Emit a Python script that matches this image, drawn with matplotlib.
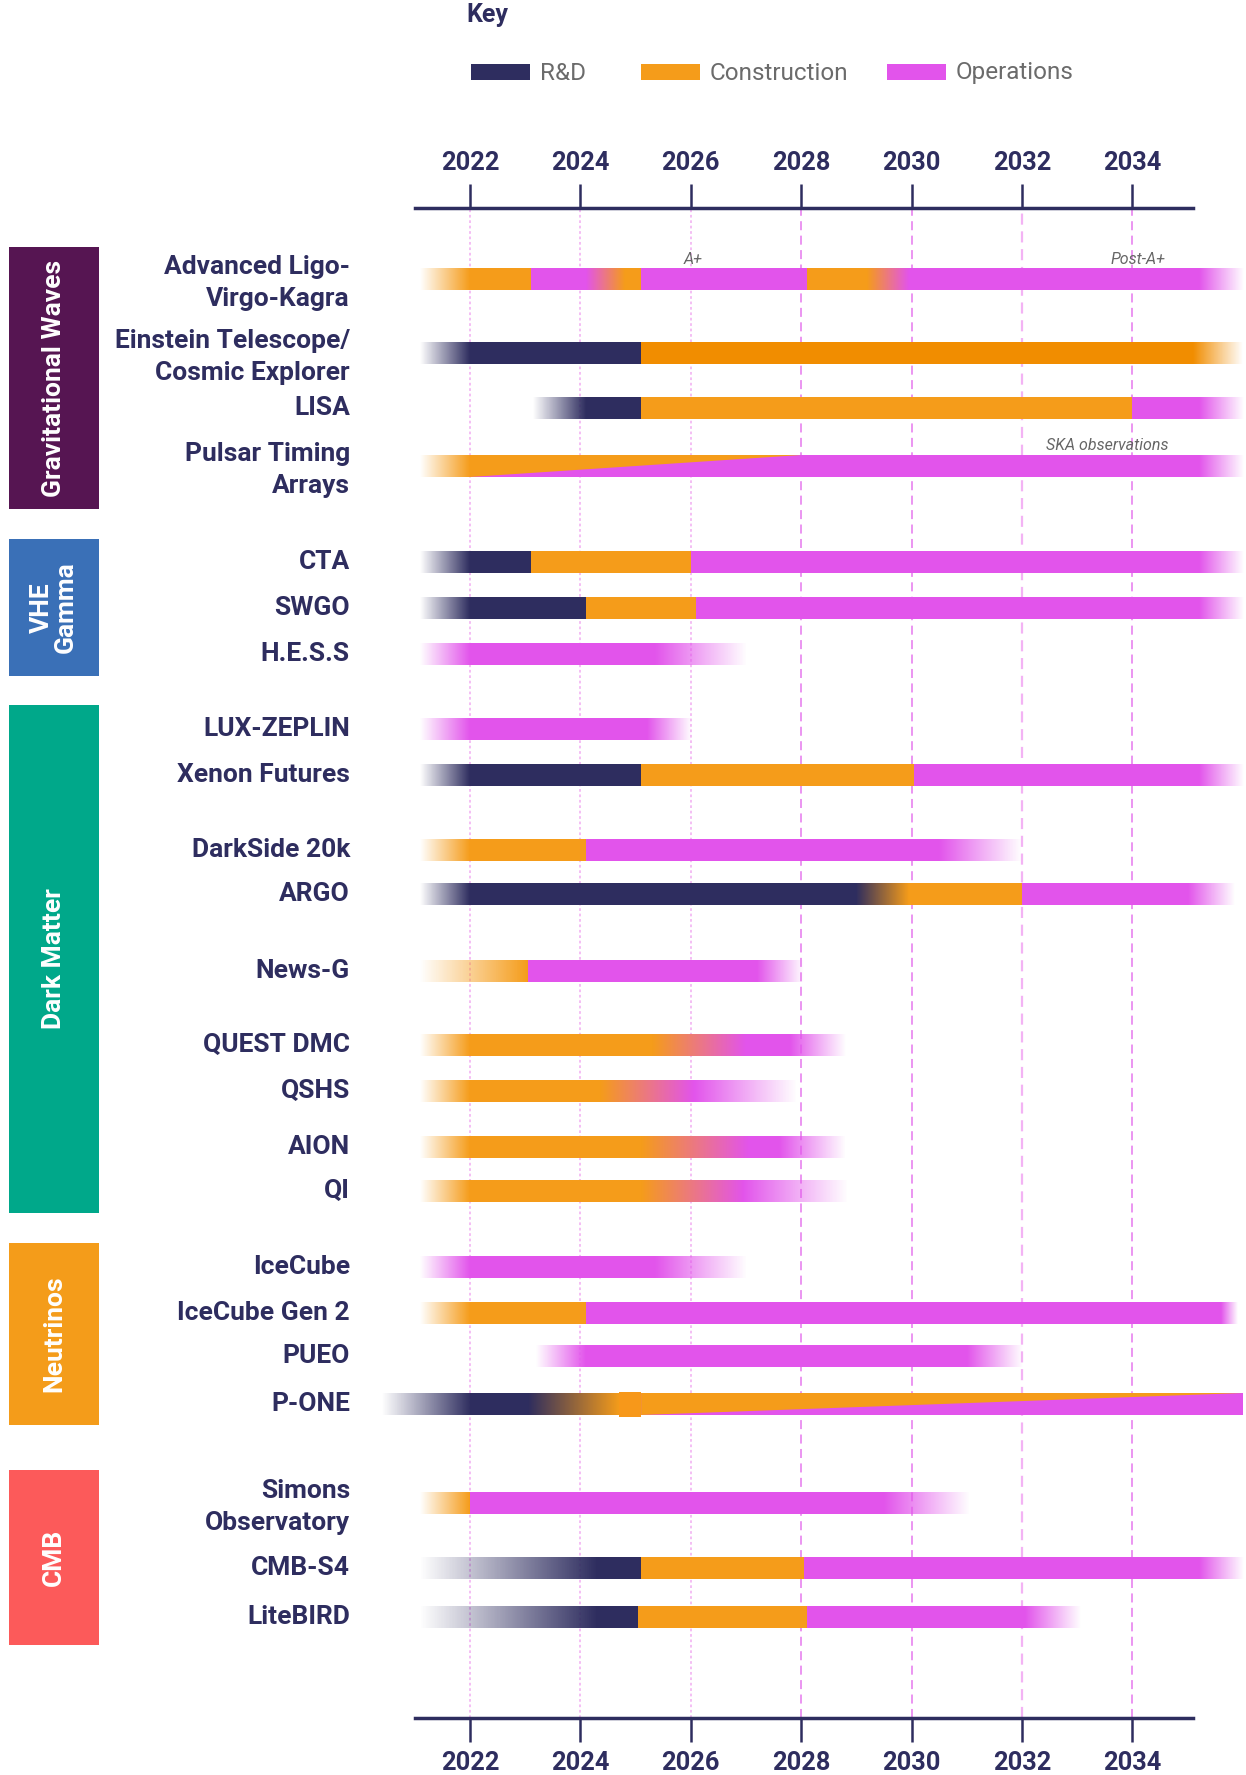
import matplotlib
matplotlib.use('Agg')
import matplotlib.pyplot as plt
from matplotlib.colors import to_rgb
import numpy as np

plt.rcParams['font.family'] = ['Roboto', 'DejaVu Sans']

NAVY = '#2e2d5f'
colours = {'rd': '#2e2d5f', 'con': '#f59c1a', 'cond': '#f18d00', 'ops': '#e254eb'}

# ---------------- data ----------------
years = [2022, 2024, 2026, 2028, 2030, 2032, 2034]

groups = ['Gravitational Waves', 'VHE\nGamma', 'Dark Matter', 'Neutrinos', 'CMB']
group_colours = ['#561552', '#3a70b7', '#00a88a', '#f49c1a', '#fc5a5a']

labels = ['Advanced Ligo-\nVirgo-Kagra', 'Einstein Telescope/\nCosmic Explorer', 'LISA',
          'Pulsar Timing\nArrays',
          'CTA', 'SWGO', 'H.E.S.S',
          'LUX-ZEPLIN', 'Xenon Futures', 'DarkSide 20k', 'ARGO', 'News-G',
          'QUEST DMC', 'QSHS', 'AION', 'QI',
          'IceCube', 'IceCube Gen 2', 'PUEO', 'P-ONE',
          'Simons\nObservatory', 'CMB-S4', 'LiteBIRD']

# phases as (start year, end year, phase at start, phase at end); 'none' = faded out
gw_bars = [
    [(2021.1, 2022, 'none', 'con'), (2022, 2023.1, 'con', 'con'), (2023.1, 2024.1, 'ops', 'ops'),
     (2024.1, 2024.8, 'ops', 'con'), (2024.8, 2025.1, 'con', 'con'), (2025.1, 2028.1, 'ops', 'ops'),
     (2028.1, 2029.2, 'con', 'con'), (2029.2, 2029.95, 'con', 'ops'), (2029.95, 2035.2, 'ops', 'ops'),
     (2035.2, 2036, 'ops', 'none')],
    [(2021.1, 2022, 'none', 'rd'), (2022, 2025.1, 'rd', 'rd'), (2025.1, 2035.1, 'cond', 'cond'),
     (2035.1, 2036, 'cond', 'none')],
    [(2023.15, 2024.1, 'none', 'rd'), (2024.1, 2025.1, 'rd', 'rd'), (2025.1, 2034.0, 'con', 'con'),
     (2034.0, 2035.2, 'ops', 'ops'), (2035.2, 2036, 'ops', 'none')],
    [(2021.1, 2022, 'none', 'con'), (2022, 2035.2, 'ops', 'ops'), (2035.2, 2036, 'ops', 'none')],
]
vhe_bars = [
    [(2021.1, 2022, 'none', 'rd'), (2022, 2023.1, 'rd', 'rd'), (2023.1, 2026.0, 'con', 'con'),
     (2026.0, 2035.2, 'ops', 'ops'), (2035.2, 2036, 'ops', 'none')],
    [(2021.1, 2022, 'none', 'rd'), (2022, 2024.1, 'rd', 'rd'), (2024.1, 2026.1, 'con', 'con'),
     (2026.1, 2035.2, 'ops', 'ops'), (2035.2, 2036, 'ops', 'none')],
    [(2021.1, 2022, 'none', 'ops'), (2022, 2025.35, 'ops', 'ops'), (2025.35, 2027.0, 'ops', 'none')],
]
dm_bars = [
    [(2021.1, 2022, 'none', 'ops'), (2022, 2025.2, 'ops', 'ops'), (2025.2, 2026.0, 'ops', 'none')],
    [(2021.1, 2022, 'none', 'rd'), (2022, 2025.1, 'rd', 'rd'), (2025.1, 2030.05, 'con', 'con'),
     (2030.05, 2035.2, 'ops', 'ops'), (2035.2, 2036, 'ops', 'none')],
    [(2021.1, 2022, 'none', 'con'), (2022, 2024.1, 'con', 'con'), (2024.1, 2030.5, 'ops', 'ops'),
     (2030.5, 2032.0, 'ops', 'none')],
    [(2021.1, 2022, 'none', 'rd'), (2022, 2029.0, 'rd', 'rd'), (2029.0, 2029.95, 'rd', 'con'),
     (2029.95, 2032.0, 'con', 'con'), (2032.0, 2035.0, 'ops', 'ops'), (2035.0, 2035.85, 'ops', 'none')],
    [(2021.1, 2023.05, 'none', 'con'), (2023.05, 2027.2, 'ops', 'ops'), (2027.2, 2028.05, 'ops', 'none')],
    [(2021.1, 2022, 'none', 'con'), (2022, 2025.3, 'con', 'con'), (2025.3, 2027.0, 'con', 'ops'),
     (2027.0, 2027.8, 'ops', 'ops'), (2027.8, 2028.8, 'ops', 'none')],
    [(2021.1, 2022, 'none', 'con'), (2022, 2024.35, 'con', 'con'), (2024.35, 2026.05, 'con', 'ops'),
     (2026.05, 2027.9, 'ops', 'none')],
    [(2021.1, 2022, 'none', 'con'), (2022, 2025.1, 'con', 'con'), (2025.1, 2027.05, 'con', 'ops'),
     (2027.05, 2027.6, 'ops', 'ops'), (2027.6, 2028.8, 'ops', 'none')],
    [(2021.1, 2022, 'none', 'con'), (2022, 2025.1, 'con', 'con'), (2025.1, 2026.95, 'con', 'ops'),
     (2026.95, 2028.85, 'ops', 'none')],
]
nu_bars = [
    [(2021.1, 2022, 'none', 'ops'), (2022, 2025.35, 'ops', 'ops'), (2025.35, 2027.0, 'ops', 'none')],
    [(2021.1, 2022, 'none', 'con'), (2022, 2024.1, 'con', 'con'), (2024.1, 2035.6, 'ops', 'ops'),
     (2035.6, 2035.9, 'ops', 'none')],
    [(2023.2, 2024.1, 'none', 'ops'), (2024.1, 2031.0, 'ops', 'ops'), (2031.0, 2032.0, 'ops', 'none')],
    [(2020.4, 2022, 'none', 'rd'), (2022, 2023.05, 'rd', 'rd'), (2023.05, 2024.7, 'rd', 'con'),
     (2024.7, 2025.1, 'con', 'con'), (2025.1, 2036.0, 'ops', 'ops')],
]
cmb_bars = [
    [(2021.1, 2022, 'none', 'con'), (2022, 2029.5, 'ops', 'ops'), (2029.5, 2031.05, 'ops', 'none')],
    [(2021.1, 2024.3, 'none', 'rd'), (2024.3, 2025.1, 'rd', 'rd'), (2025.1, 2028.05, 'con', 'con'),
     (2028.05, 2035.2, 'ops', 'ops'), (2035.2, 2036, 'ops', 'none')],
    [(2021.1, 2024.3, 'none', 'rd'), (2024.3, 2025.05, 'rd', 'rd'), (2025.05, 2028.1, 'con', 'con'),
     (2028.1, 2032.05, 'ops', 'ops'), (2032.05, 2033.05, 'ops', 'none')],
]
bars = gw_bars + vhe_bars + dm_bars + nu_bars + cmb_bars

# construction tapering into operations (row index, start, end)
wedges = [(3, 2022, 2028), (19, 2025.1, 2036.0)]

notes = [('A+', 2026.05, 0), ('Post-A+', 2034.1, 0), ('SKA observations', 2033.55, 3)]

# ---------------- layout (pixels) ----------------
W, H = 1246, 1775
row_y = [279, 353, 408, 466, 562, 608, 654, 729, 775, 850, 894, 971, 1045, 1091, 1147, 1191,
         1267, 1313, 1356, 1404, 1503, 1568, 1617]
BAR_H = 22
group_box = [(247, 509), (539, 676), (705, 1213), (1243, 1425), (1470, 1645)]
ax_left, ax_right, ax_top, ax_bot = 415, 1193, 208, 1718
px_per_year = 55.2
x2022 = 470


def px2yr(p):
    return 2022 + (p - x2022) / px_per_year


fig = plt.figure(figsize=(W / 100, H / 100), dpi=100)

lay = fig.add_axes([0, 0, 1, 1])
lay.set_xlim(0, W)
lay.set_ylim(H, 0)
lay.axis('off')

ax = fig.add_axes([ax_left / W, 1 - ax_bot / H, (ax_right - ax_left) / W, (ax_bot - ax_top) / H])
ax.set_xlim(px2yr(ax_left), px2yr(ax_right))
ax.set_ylim(ax_bot, ax_top)
ax.patch.set_visible(False)
for s in ['left', 'right']:
    ax.spines[s].set_visible(False)
for s in ['top', 'bottom']:
    ax.spines[s].set_color(NAVY)
    ax.spines[s].set_linewidth(2.5)
ax.set_yticks([])
ax.set_xticks(years)
ax.tick_params(axis='x', top=True, bottom=True, labeltop=True, labelbottom=True,
               direction='out', length=17, width=1.8, color=NAVY, labelcolor=NAVY,
               labelsize=18.3, pad=7)
for t in ax.get_xticklabels():
    t.set_fontweight('bold')

# grid lines
for yr in years:
    if yr <= 2026:
        ax.axvline(yr, color='#f3b9f3', lw=1.3, ls=(0, (1.5, 1.5)), zorder=0.5)
    elif yr == 2032:
        ax.axvline(yr, color='#f3b3f4', lw=1.6, ls=(0, (5, 3)), zorder=0.5)
    else:
        ax.axvline(yr, color='#e98cf0', lw=1.3, ls=(0, (5, 3)), zorder=0.5)


def draw_seg(y, x0, x1, k0, k1):
    if k0 == k1:
        ax.barh(y, x1 - x0, left=x0, height=BAR_H, color=colours[k0], linewidth=0,
                zorder=2, clip_on=False)
        return
    c0 = colours[k1] if k0 == 'none' else colours[k0]
    c1 = colours[k0] if k1 == 'none' else colours[k1]
    a0 = 0.0 if k0 == 'none' else 1.0
    a1 = 0.0 if k1 == 'none' else 1.0
    t = np.linspace(0, 1, 256)
    r0, r1 = np.array(to_rgb(c0)), np.array(to_rgb(c1))
    img = np.zeros((1, 256, 4))
    img[0, :, :3] = r0 + (r1 - r0) * t[:, None]
    img[0, :, 3] = a0 + (a1 - a0) * t
    im = ax.imshow(img, extent=(x0, x1, y + BAR_H / 2, y - BAR_H / 2), aspect='auto',
                   interpolation='nearest', zorder=2)
    im.set_clip_on(False)


for i, segs in enumerate(bars):
    for (x0, x1, k0, k1) in segs:
        draw_seg(row_y[i], x0, x1, k0, k1)

for (i, x0, x1) in wedges:
    y = row_y[i]
    ax.fill([x0, x1, x0], [y - BAR_H / 2, y - BAR_H / 2, y + BAR_H / 2],
            color=colours['con'], lw=0, zorder=3, clip_on=False)

# P-ONE construction marker
ax.barh(row_y[19], 0.4, left=2024.7, height=BAR_H + 3, color='#f7981a', lw=0, zorder=3,
        clip_on=False)

for (txt, yr, i) in notes:
    ax.text(yr, row_y[i] - 20, txt, ha='center', va='center', fontsize=11.5,
            style='italic', color='#666666', zorder=4, clip_on=False)

ax.set_xlim(px2yr(ax_left), px2yr(ax_right))
ax.set_ylim(ax_bot, ax_top)

# row labels
for i, lab in enumerate(labels):
    dy = 4 if '\n' in lab else 0
    lay.text(350, row_y[i] + dy, lab, ha='right', va='center', fontsize=19,
             fontweight='bold', color=NAVY, linespacing=1.4)

# group boxes
for (g, c, (y0, y1)) in zip(groups, group_colours, group_box):
    lay.add_patch(plt.Rectangle((9, y0), 90, y1 - y0, color=c, lw=0))
    lay.text(54, (y0 + y1) / 2, g, rotation=90, ha='center', va='center',
             multialignment='center', fontsize=19, fontweight='bold', color='white',
             linespacing=1.0)

# key
lay.text(466, 15, 'Key', ha='left', va='center', fontsize=18, fontweight='bold', color=NAVY)
key_items = [('R&D', colours['rd'], 471), ('Construction', colours['con'], 641),
             ('Operations', colours['ops'], 887)]
for (name, c, x) in key_items:
    lay.add_patch(plt.Rectangle((x, 64), 59, 16, color=c, lw=0))
    lay.text(x + 69, 73, name, ha='left', va='center', fontsize=17.5, color='#6b6b6b')

fig.savefig('out.png', dpi=100)
